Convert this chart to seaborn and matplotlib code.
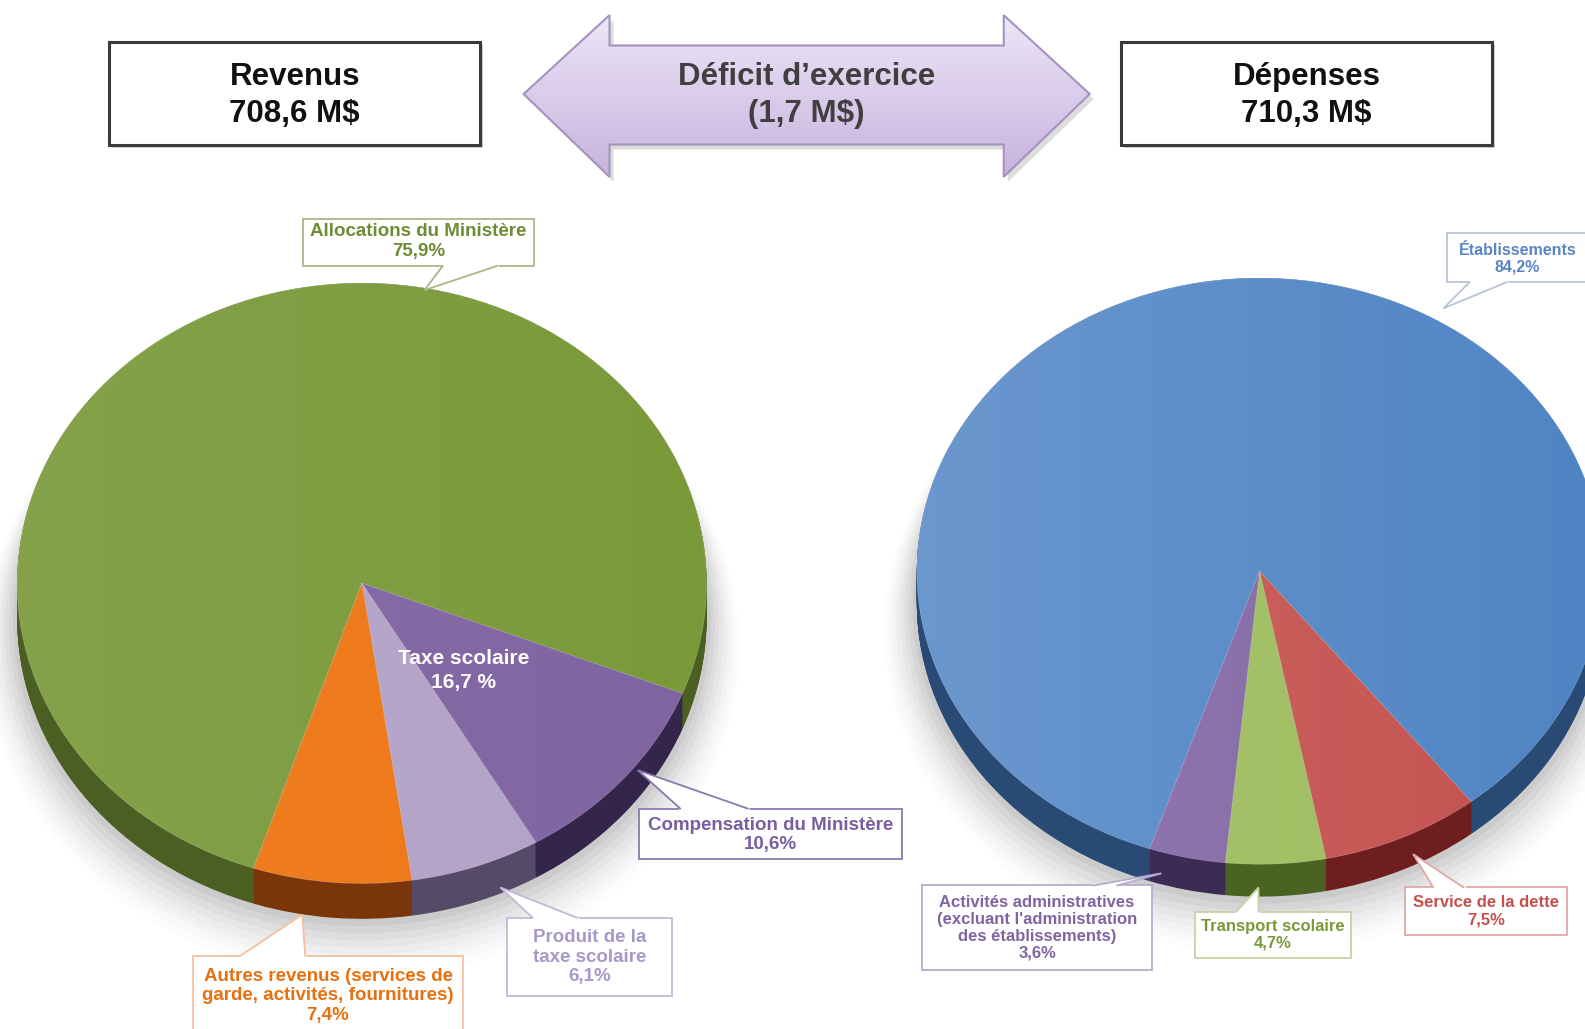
import numpy as np
import matplotlib
matplotlib.use("Agg")
import matplotlib.pyplot as plt
import seaborn as sns
from matplotlib.patches import Polygon, Rectangle, Circle

# ---------------- data ----------------
rev_labels = ["Allocations du Ministère", "Compensation du Ministère",
              "Produit de la\ntaxe scolaire",
              "Autres revenus (services de\ngarde, activités, fournitures)"]
rev_values = [75.9, 10.6, 6.1, 7.4]
rev_colors = ["#7A9A3A", "#8064A2", "#B3A2C7", "#EE7614"]
rev_side = ["#4B5F22", "#34264A", "#554A68", "#7A3608"]

dep_labels = ["Établissements", "Service de la dette", "Transport scolaire",
              "Activités administratives\n(excluant l'administration\ndes établissements)"]
dep_values = [84.2, 7.5, 4.7, 3.6]
dep_colors = ["#4F84C4", "#C4504D", "#9BBB59", "#8064A2"]
dep_side = ["#284A74", "#6E1E1E", "#4A6222", "#3C2C55"]

revenus_title = "Revenus"
revenus_total = "708,6 M$"
depenses_title = "Dépenses"
depenses_total = "710,3 M$"
deficit_title = "Déficit d’exercice"
deficit_value = "(1,7 M$)"
taxe_label = "Taxe scolaire"
taxe_value = "16,7 %"

sns.set_theme(style="white")
plt.rcParams['font.family'] = ['Liberation Sans', 'DejaVu Sans']

W, H = 1568.0, 1018.0
fig = plt.figure(figsize=(15.85, 10.29), dpi=100)
fig.patch.set_facecolor("white")


def fig_rect(x0, y0, x1, y1):
    return [x0 / W, 1 - y1 / H, (x1 - x0) / W, (y1 - y0) / H]


def pct(v):
    return ("%.1f" % v).replace(".", ",") + "%"


def draw_pie(cx, cy, rx, ry, depth, values, colors, side, startangle, gmax):
    d = depth / ry
    ax = fig.add_axes(fig_rect(cx - rx, cy - ry, cx + rx, cy + ry + depth))
    ax.set_facecolor("none")
    # soft shadow
    for i, a in enumerate(np.linspace(0.045, 0.01, 9)):
        ax.add_patch(Circle((0.0, -d - 0.012 * i), 1.0 + 0.012 * i,
                            facecolor="#000000", alpha=a, lw=0, zorder=0,
                            clip_on=False))
    # side (depth)
    for k in np.linspace(d, 0, 40):
        ax.pie(values, colors=side, startangle=startangle, counterclock=False,
               center=(0, -k), radius=1.0, wedgeprops=dict(linewidth=0))
    # top face
    ax.pie(values, colors=colors, startangle=startangle,
           counterclock=False, center=(0, 0), radius=1.0,
           wedgeprops=dict(linewidth=0.4, edgecolor="#ffffff55"))
    # light gradient on the top face
    grad = np.linspace(gmax, 0.0, 256).reshape(1, -1)
    img = np.ones((1, 256, 4))
    img[..., 3] = grad
    im = ax.imshow(img, extent=(-1, 1, -1, 1), aspect="auto", zorder=5,
                   interpolation="bilinear")
    im.set_clip_path(Circle((0, 0), 1.0, transform=ax.transData))
    for p in ax.patches:
        p.set_clip_on(False)
    ax.set_xlim(-1, 1)
    ax.set_ylim(-1 - d, 1)
    ax.set_aspect("auto")
    ax.axis("off")
    return ax


draw_pie(358, 577, 341, 297, 35, rev_values, rev_colors, rev_side, 251.7, 0.08)
draw_pie(1246, 565, 339, 290, 32, dep_values, dep_colors, dep_side, 251.3, 0.16)

# ---------------- overlay ----------------
ov = fig.add_axes([0, 0, 1, 1])
ov.set_xlim(0, W)
ov.set_ylim(H, 0)
ov.axis("off")
ov.set_facecolor("none")

HFS = 22.5
for (x0, x1, t1, t2) in [(108, 475, revenus_title, revenus_total),
                         (1109, 1476, depenses_title, depenses_total)]:
    ov.add_patch(Rectangle((x0 + 3, 45), x1 - x0, 101, facecolor="#00000030", lw=0))
    ov.add_patch(Rectangle((x0, 42), x1 - x0, 101, facecolor="white",
                           edgecolor="#3a3a3a", lw=2.2))
    ov.text((x0 + x1) / 2, 76, t1, ha="center", va="center", fontsize=HFS,
            fontweight="bold", color="#111111")
    ov.text((x0 + x1) / 2, 113, t2, ha="center", va="center", fontsize=HFS,
            fontweight="bold", color="#111111")

# double arrow
arrow_pts = [(518, 93), (603, 15), (603, 45), (993, 45), (993, 15), (1078, 93),
             (993, 175), (993, 143), (603, 143), (603, 175)]
ov.add_patch(Polygon([(x + 4, y + 5) for x, y in arrow_pts], closed=True,
                     facecolor="#00000022", lw=0))
ov.add_patch(Polygon(arrow_pts, closed=True, facecolor="none",
                     edgecolor="#A493BE", lw=1.5, zorder=3))
grad = np.linspace(0, 1, 256).reshape(-1, 1)
c_top = np.array([0.93, 0.90, 0.97])
c_bot = np.array([0.78, 0.70, 0.87])
img = c_top[None, None, :] * (1 - grad[..., None]) + c_bot[None, None, :] * grad[..., None]
img = np.repeat(img, 2, axis=1)
im = ov.imshow(img, extent=(518, 1078, 175, 15), aspect="auto", zorder=2)
im.set_clip_path(Polygon(arrow_pts, closed=True, transform=ov.transData))
ov.set_xlim(0, W)
ov.set_ylim(H, 0)
ov.text(798, 76, deficit_title, ha="center", va="center", fontsize=HFS,
        fontweight="bold", color="#404040", zorder=4)
ov.text(798, 113, deficit_value, ha="center", va="center", fontsize=HFS,
        fontweight="bold", color="#404040", zorder=4)

# taxe scolaire label
ov.text(459, 651, taxe_label, ha="center", va="center", fontsize=15,
        fontweight="bold", color="white")
ov.text(459, 675, taxe_value, ha="center", va="center", fontsize=15,
        fontweight="bold", color="white")


def callout(box, text, color, edge, tip, base, side, fs=13.5, ty=None, tx=None, ls=1.2):
    x0, y0, x1, y1 = box
    ov.add_patch(Rectangle((x0, y0), x1 - x0, y1 - y0, facecolor="white",
                           edgecolor=edge, lw=1.3, zorder=6))
    by = y0 if side == "top" else y1
    ov.add_patch(Polygon([(base[0], by), tip, (base[1], by)], closed=True,
                         facecolor="white", lw=0, zorder=7))
    ov.plot([base[0], base[1]], [by, by], color="white", lw=2.2, zorder=7)
    ov.plot([base[0], tip[0], base[1]], [by, tip[1], by], color=edge, lw=1.3,
            zorder=8, solid_joinstyle="miter")
    if ty is None:
        ty = (y0 + y1) / 2
    if tx is None:
        tx = (x0 + x1) / 2
    ov.text(tx, ty, text, ha="center", va="center", fontsize=fs,
            fontweight="bold", color=color, linespacing=ls, zorder=9)


callout((300, 217, 528, 263), rev_labels[0] + "\n" + pct(rev_values[0]),
        "#6F8C35", "#A9B68A", (420, 287), (438, 492), "bottom", ty=239)
callout((632, 800, 892, 850), rev_labels[1] + "\n" + pct(rev_values[1]),
        "#7A5EA2", "#8C78B0", (631, 762), (673, 740), "top", ty=826)
callout((502, 908, 665, 985), rev_labels[2] + "\n" + pct(rev_values[2]),
        "#A898C8", "#C4B8DA", (495, 878), (527, 571), "top", ty=947)
callout((191, 946, 458, 1060), rev_labels[3] + "\n" + pct(rev_values[3]),
        "#E8700E", "#F4C0A0", (299, 905), (237, 302), "top", ty=985)

callout((1431, 231, 1600, 279), dep_labels[0] + "\n" + pct(dep_values[0]),
        "#5B84C4", "#B8C4D8", (1428, 305), (1454, 1491), "bottom", fs=11.5,
        ty=256, tx=1501, ls=1.15)
callout((1390, 878, 1550, 925), dep_labels[1] + "\n" + pct(dep_values[1]),
        "#C4504D", "#E0A8A6", (1398, 845), (1418, 1448), "top", fs=12, ls=1.15)
callout((1182, 902, 1337, 948), dep_labels[2] + "\n" + pct(dep_values[2]),
        "#7A9A3A", "#C4D4A4", (1245, 878), (1223, 1245), "top", fs=12, ls=1.15)
callout((912, 876, 1140, 960), dep_labels[3] + "\n" + pct(dep_values[3]),
        "#8064A2", "#B8ACCC", (1149, 864), (1082, 1105), "top", fs=12, ls=1.15)

fig.savefig("out.png", dpi=100, facecolor="white")
